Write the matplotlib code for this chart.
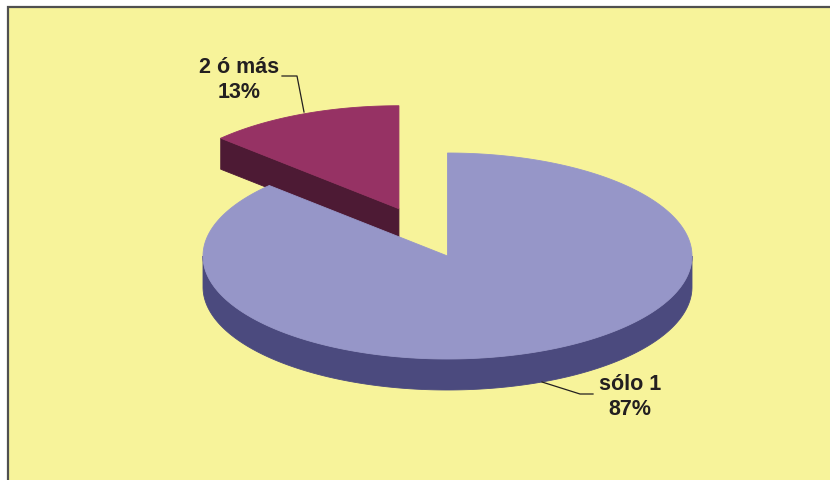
import numpy as np
import matplotlib.pyplot as plt
from matplotlib.patches import Polygon, Rectangle

# slice data (Excel order: clockwise from 12 o'clock)
labels = ["sólo 1", "2 ó más"]
values = [87, 13]
explode = [0.0, 0.5]
top_colors = ["#9696C8", "#963264"]
side_colors = ["#4B4A7E", "#4D1A34"]

# pie geometry in pixel units
cx, cy = 447.5, 257.0
rx, ry = 244.5, 103.0
depth = 31.0

plt.rcParams['font.family'] = ['Liberation Sans', 'DejaVu Sans']

fig = plt.figure(figsize=(8.3, 4.81), dpi=100)
ax = fig.add_axes([0, 0, 1, 1])
ax.set_xlim(0, 830)
ax.set_ylim(481, 0)
ax.axis('off')

ax.add_patch(Rectangle((7.5, 7.5), 840, 490, facecolor="#F7F39A",
                       edgecolor="#505050", lw=1.6, zorder=0))


def rim(x0, y0, t, dy=0.0):
    t = np.radians(t)
    return np.column_stack([x0 + rx * np.cos(t), y0 - ry * np.sin(t) + dy])


def draw_slice(t1, t2, x0, y0, top, side, z):
    kw = dict(lw=0.6, zorder=z)
    # outer wall, only the part facing the viewer (180..360 deg)
    for k in range(-2, 2):
        a = max(t1, 180 + 360 * k)
        b = min(t2, 360 + 360 * k)
        if b > a:
            ts = np.linspace(a, b, 200)
            pts = np.vstack([rim(x0, y0, ts), rim(x0, y0, ts[::-1], depth)])
            ax.add_patch(Polygon(pts, closed=True, fc=side, ec=side, **kw))
    # cut faces
    for t, sign in ((t1, 1), (t2, -1)):
        if sign * np.cos(np.radians(t)) > 1e-6:
            p = rim(x0, y0, [t])[0]
            pts = [(x0, y0), p, (p[0], p[1] + depth), (x0, y0 + depth)]
            ax.add_patch(Polygon(pts, closed=True, fc=side, ec=side, **kw))
    ts = np.linspace(t1, t2, 300)
    pts = np.vstack([[(x0, y0)], rim(x0, y0, ts)])
    ax.add_patch(Polygon(pts, closed=True, fc=top, ec=top, lw=0.6, zorder=z + 0.5))


total = sum(values)
start = 90.0
pieces = []
for lab, v, ex, tc, sc in zip(labels, values, explode, top_colors, side_colors):
    sweep = 360.0 * v / total
    t1, t2 = start - sweep, start
    start = t1
    mid = np.radians((t1 + t2) / 2)
    x0 = cx + ex * rx * np.cos(mid)
    y0 = cy - ex * ry * np.sin(mid)
    pieces.append((np.sin(mid), t1, t2, x0, y0, tc, sc))

# back slices first
for z, (s, t1, t2, x0, y0, tc, sc) in enumerate(sorted(pieces, key=lambda p: -p[0])):
    draw_slice(t1, t2, x0, y0, tc, sc, 2 + z)

# labels with leader lines
txt = dict(ha='center', va='center', fontsize=15.5, fontweight='bold',
           color='#231F20', linespacing=1.3, zorder=10)
ax.text(630, 397, f"{labels[0]}\n{values[0]}%", **txt)
ax.text(239, 80, f"{labels[1]}\n{values[1]}%", **txt)
ax.plot([542, 580, 593], [383, 395, 395], color='#231F20', lw=0.9, zorder=10)
ax.plot([282, 297, 304], [77, 77, 113], color='#231F20', lw=0.9, zorder=10)

fig.savefig("out.png", dpi=100)
